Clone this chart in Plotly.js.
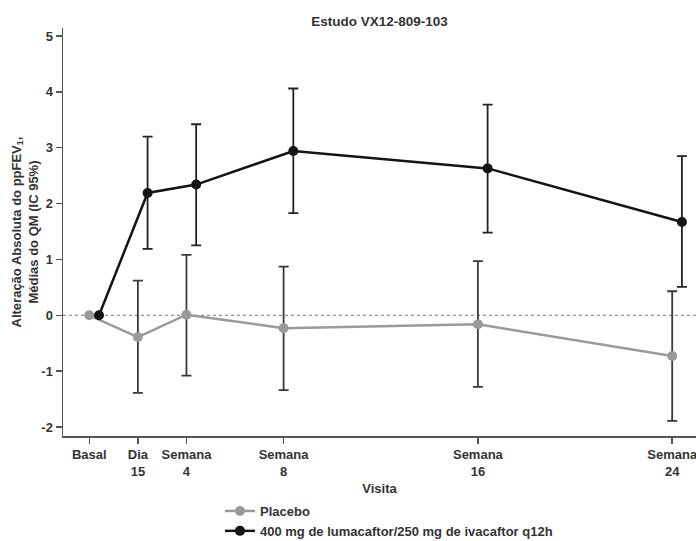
<!DOCTYPE html>
<html>
<head>
<meta charset="utf-8">
<script src="https://cdn.plot.ly/plotly-3.0.1.min.js"></script>
<style>html,body{margin:0;padding:0;background:#fff;}</style>
</head>
<body>
<div id="chart" style="width:696px;height:541px;"></div>
<script>
// Visit positions (weeks) and tick labels
const weeks = [0, 2, 4, 8, 16, 24];
const tickLabels = ["Basal", "Dia<br>15", "Semana<br>4", "Semana<br>8", "Semana<br>16", "Semana<br>24"];

// Y-axis tick values and labels (hyphen minus as in the reference)
const yTickVals = [-2, -1, 0, 1, 2, 3, 4, 5];
const yTickText = ["-2", "-1", "0", "1", "2", "3", "4", "5"];

// Placebo: LS mean change and 95% CI
const placeboMean  = [0, -0.39, 0.01, -0.23, -0.16, -0.73];
const placeboUpper = [null, 0.62, 1.08, 0.87, 0.97, 0.43];
const placeboLower = [null, -1.39, -1.08, -1.34, -1.28, -1.89];

// Lumacaftor/ivacaftor: LS mean change and 95% CI
const lumaMean  = [0, 2.19, 2.34, 2.94, 2.63, 1.67];
const lumaUpper = [null, 3.20, 3.42, 4.06, 3.77, 2.85];
const lumaLower = [null, 1.19, 1.25, 1.83, 1.48, 0.51];

const seriesNames = ["Placebo", "400 mg de lumacaftor/250 mg de ivacaftor q12h"];

const FONT = '"Liberation Sans", Arial, sans-serif';
const dodge = 0.4;

function plusErr(m, u) { return m.map((v, i) => u[i] == null ? NaN : u[i] - v); }
function minusErr(m, l) { return m.map((v, i) => l[i] == null ? NaN : v - l[i]); }

const traces = [
  {
    x: weeks,
    y: placeboMean,
    name: seriesNames[0],
    type: 'scatter',
    mode: 'lines+markers',
    line: {color: '#9a9a9a', width: 2.5},
    marker: {color: '#9a9a9a', size: 10},
    error_y: {type: 'data', symmetric: false, array: plusErr(placeboMean, placeboUpper),
              arrayminus: minusErr(placeboMean, placeboLower), color: '#3a3a3a', thickness: 1.8, width: 5}
  },
  {
    x: weeks.map(w => w + dodge),
    y: lumaMean,
    name: seriesNames[1],
    type: 'scatter',
    mode: 'lines+markers',
    line: {color: '#141414', width: 2.5},
    marker: {color: '#141414', size: 10},
    error_y: {type: 'data', symmetric: false, array: plusErr(lumaMean, lumaUpper),
              arrayminus: minusErr(lumaMean, lumaLower), color: '#222222', thickness: 1.8, width: 5}
  }
];

const axisFont = {family: FONT, size: 13, color: '#333', weight: 'bold'};

const layout = {
  width: 696,
  height: 541,
  paper_bgcolor: '#fff',
  plot_bgcolor: '#fff',
  margin: {l: 63, r: 0, t: 28, b: 105, pad: 0, autoexpand: false},
  font: {family: FONT, color: '#333'},
  title: {
    text: 'Estudo VX12-809-103',
    font: {family: FONT, size: 13.5, color: '#333', weight: 'bold'},
    x: 0.5, xref: 'paper',
    y: 1 - 21 / 541, yref: 'container', yanchor: 'middle'
  },
  xaxis: {
    range: [-1.083, 24.98],
    tickmode: 'array',
    tickvals: weeks,
    ticktext: tickLabels,
    ticklabeloverflow: 'allow',
    ticks: 'outside', ticklen: 6, tickwidth: 1.5, tickcolor: '#555',
    showline: true, linecolor: '#555', linewidth: 1.5,
    showgrid: false, zeroline: false,
    tickfont: axisFont,
    title: {text: 'Visita', font: axisFont, standoff: 11},
    automargin: false
  },
  yaxis: {
    range: [-2.161, 5.143],
    tickmode: 'array',
    tickvals: yTickVals,
    ticktext: yTickText,
    ticks: 'outside', ticklen: 6, tickwidth: 1.5, tickcolor: '#555',
    showline: true, linecolor: '#555', linewidth: 1.5,
    showgrid: false, zeroline: false,
    tickfont: axisFont,
    title: {text: 'Alteração Absoluta do ppFEV<sub>1</sub>,<br>Médias do QM (IC 95%)', font: {family: FONT, size: 13, color: '#333', weight: 'bold'}, standoff: 0},
    automargin: false
  },
  shapes: [{
    type: 'line', xref: 'paper', x0: 0, x1: 1, yref: 'y', y0: 0, y1: 0,
    line: {color: '#777', width: 1, dash: 'dot'}, layer: 'below'
  }],
  showlegend: true,
  legend: {
    orientation: 'v',
    x: 0.248, xanchor: 'left', xref: 'paper',
    y: 1 - 496 / 541, yanchor: 'top', yref: 'container',
    font: {family: FONT, size: 13, color: '#333', weight: 'bold'},
    bgcolor: 'rgba(0,0,0,0)',
    borderwidth: 0
  }
};

Plotly.newPlot('chart', traces, layout, {displayModeBar: false, staticPlot: true});
</script>
</body>
</html>
